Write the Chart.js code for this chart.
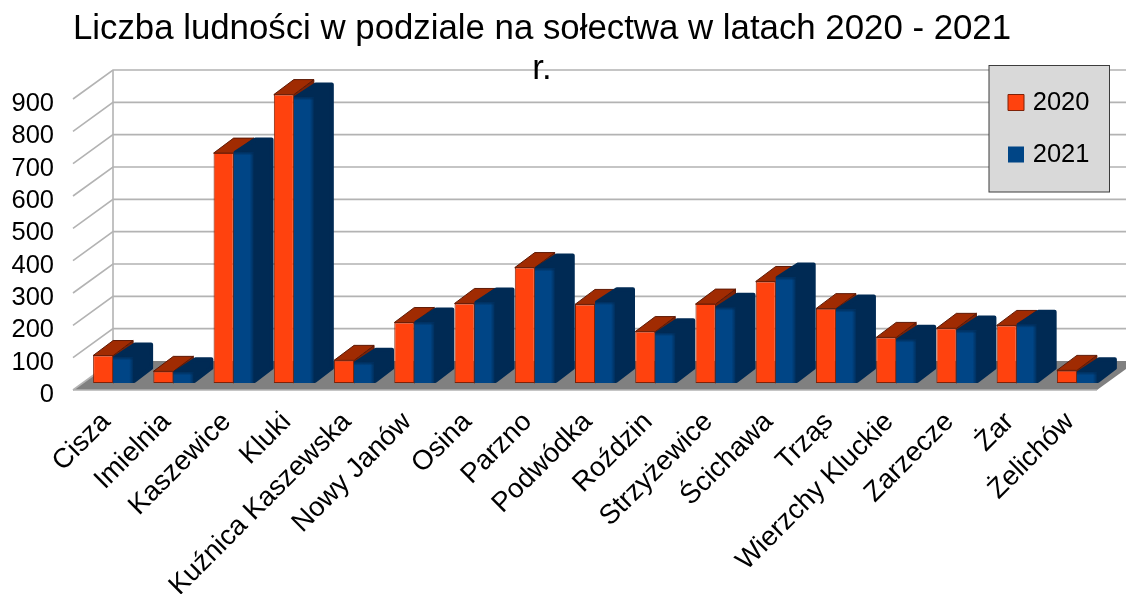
<!DOCTYPE html>
<html lang="pl">
<head>
<meta charset="utf-8">
<style>html,body{margin:0;padding:0;background:#fff;overflow:hidden}canvas{display:block}</style>
<script src="https://cdn.jsdelivr.net/npm/chart.js@4/dist/chart.umd.min.js"></script>
</head>
<body>
<canvas id="c" width="1126" height="594"></canvas>
<script>
const categories = ["Cisza","Imielnia","Kaszewice","Kluki","Kuźnica Kaszewska","Nowy Janów","Osina","Parzno","Podwódka","Roździn","Strzyżewice","Ścichawa","Trząs","Wierzchy Kluckie","Zarzecze","Żar","Żelichów"];
const values2020 = [85,36,711,892,70,187,246,357,243,159,244,314,230,141,169,178,39];
const values2021 = [79,33,713,883,63,187,249,354,250,154,233,326,227,134,162,180,33];
const titleLines = ["Liczba ludności w podziale na sołectwa w latach 2020 - 2021","r."];
const seriesNames = ["2020","2021"];
const FONT = '"Liberation Sans", Arial, sans-serif';

// depth of the drawing: wall depth, bar depth and the inset of the bar plane
const WALL = {dx:40, dy:-29};
const BAR = {dx:20, dy:-15};
const INSET = {dx:10, dy:-7};
const GRID = '#b3b3b3';

const path=(ctx,p)=>{ctx.beginPath();p.forEach((q,i)=>i?ctx.lineTo(q[0],q[1]):ctx.moveTo(q[0],q[1]));ctx.closePath();};

const depth3d = {
  id:'depth3d',
  afterLayout(chart){
    const t = chart.titleBlock; t.right = 1084;
    const l = chart.legend; l.left = 985.5; l.top = 63.25; l.right = 1110; l.bottom = 400;
  },
  beforeDraw(chart){
    const {ctx, chartArea:a, scales:{y}} = chart;
    ctx.save();
    ctx.fillStyle = '#fff'; ctx.fillRect(0,0,chart.width,chart.height);
    const y0 = y.getPixelForValue(0);
    ctx.fillStyle = '#808080';
    ctx.beginPath();
    ctx.moveTo(a.left,y0); ctx.lineTo(a.right,y0);
    ctx.lineTo(a.right+WALL.dx,y0+WALL.dy); ctx.lineTo(a.left+WALL.dx,y0+WALL.dy);
    ctx.closePath(); ctx.fill();
    ctx.strokeStyle = GRID; ctx.lineWidth = 1.6;
    y.ticks.forEach(t=>{
      const p = y.getPixelForValue(t.value);
      ctx.beginPath();
      ctx.moveTo(a.left,p); ctx.lineTo(a.left+WALL.dx,p+WALL.dy);
      if (t.value>0) ctx.lineTo(a.right+WALL.dx,p+WALL.dy);
      ctx.stroke();
    });
    ctx.beginPath();
    ctx.moveTo(a.left+WALL.dx,a.top+WALL.dy); ctx.lineTo(a.left+WALL.dx,y0+WALL.dy);
    ctx.moveTo(a.left,y0); ctx.lineTo(a.right,y0);
    ctx.stroke();
    // legend panel
    ctx.fillStyle = '#d9d9d9'; ctx.strokeStyle = '#3c3c3c'; ctx.lineWidth = 1;
    ctx.fillRect(989,65.5,120.5,126.5); ctx.strokeRect(989,65.5,120.5,126.5);
    ctx.restore();
  },
  beforeDatasetsDraw(chart){
    const ctx = chart.ctx;
    ctx.save(); ctx.translate(INSET.dx,INSET.dy);
    // the red series lies furthest from the viewer, so its depth faces go first
    ctx.save();
    ctx.lineJoin='round'; ctx.strokeStyle='#5e1a06'; ctx.lineWidth=1;
    chart.getDatasetMeta(0).data.forEach(b=>{
      const l=b.x-b.width/2, r=b.x+b.width/2, t=b.y, base=b.base;
      ctx.fillStyle='#7d2206';
      path(ctx,[[r,t],[r+BAR.dx,t+BAR.dy],[r+BAR.dx,base+BAR.dy],[r,base]]); ctx.fill(); ctx.stroke();
      ctx.fillStyle='#a02b02';
      path(ctx,[[l,t],[l+BAR.dx,t+BAR.dy],[r+BAR.dx,t+BAR.dy],[r,t]]); ctx.fill(); ctx.stroke();
    });
    ctx.restore();
  },
  afterDatasetsDraw(chart){ chart.ctx.restore(); },
  beforeDatasetDraw(chart,args){
    if(args.index!==1) return;
    const ctx = chart.ctx;
    ctx.save();
    ctx.lineJoin='round'; ctx.fillStyle='#002a54'; ctx.strokeStyle='#002a54'; ctx.lineWidth=4;
    args.meta.data.forEach(b=>{
      const l=b.x-b.width/2, r=b.x+b.width/2, t=b.y, base=b.base;
      path(ctx,[[l+2,t],[l+BAR.dx+2,t+BAR.dy+2],[r+BAR.dx-2,t+BAR.dy+2],[r+BAR.dx-2,base+BAR.dy],[r+1,base-2],[r-2,base-2],[r-2,t+2]]);
      ctx.fill(); ctx.stroke();
    });
    ctx.restore();
  },
  afterDatasetDraw(chart,args){
    if(args.index!==1) return;
    const ctx=chart.ctx;
    ctx.save();
    args.meta.data.forEach(b=>{
      const r=b.x+b.width/2, t=b.y, base=b.base;
      const g=ctx.createLinearGradient(r-4,0,r+1,0);
      g.addColorStop(0,'rgba(0,42,84,0)'); g.addColorStop(1,'rgba(0,42,84,1)');
      ctx.fillStyle=g; ctx.fillRect(r-4,t,5,base-t);
      const h=ctx.createLinearGradient(0,t,0,t+3);
      h.addColorStop(0,'rgba(0,42,84,.8)'); h.addColorStop(1,'rgba(0,42,84,0)');
      ctx.fillStyle=h; ctx.fillRect(b.x-b.width/2,t,b.width,3);
    });
    ctx.restore();
  }
};

new Chart(document.getElementById('c'),{
  type:'bar',
  data:{labels:categories,datasets:[
    {label:seriesNames[0],data:values2020,backgroundColor:'#ff420e',borderColor:'#7f2107',borderWidth:1,borderSkipped:false,clip:false},
    {label:seriesNames[1],data:values2021,backgroundColor:'#004586',borderColor:'#004586',borderWidth:0,clip:false}
  ]},
  options:{
    responsive:false,animation:false,
    devicePixelRatio:1,
    layout:{padding:{left:0,right:29,top:0,bottom:0}},
    datasets:{bar:{barPercentage:1,categoryPercentage:40/60.24}},
    plugins:{
      title:{display:true,text:titleLines,color:'#000',padding:{top:9,bottom:10},font:{family:FONT,size:34.8,weight:'normal',lineHeight:'40px'}},
      legend:{display:true,position:'chartArea',align:'start',labels:{color:'#000',font:{family:FONT,size:25.5},boxWidth:8,boxHeight:16,padding:26.5,usePointStyle:true,pointStyle:'rect'}},
      tooltip:{enabled:false}
    },
    scales:{
      x:{
        grid:{display:false,drawTicks:false},border:{display:false},
        ticks:{autoSkip:false,minRotation:45,maxRotation:45,color:'#000',padding:16,labelOffset:3,font:{family:FONT,size:27.5}},
        afterFit(s){s.height=204;}
      },
      y:{
        min:0,max:900,
        grid:{display:false,drawTicks:false},border:{display:false},
        ticks:{autoSkip:false,stepSize:100,color:'#000',padding:19,labelOffset:5,font:{family:FONT,size:25.5}},
        afterFit(s){s.width=73;}
      }
    }
  },
  plugins:[depth3d]
});
</script>
</body>
</html>
